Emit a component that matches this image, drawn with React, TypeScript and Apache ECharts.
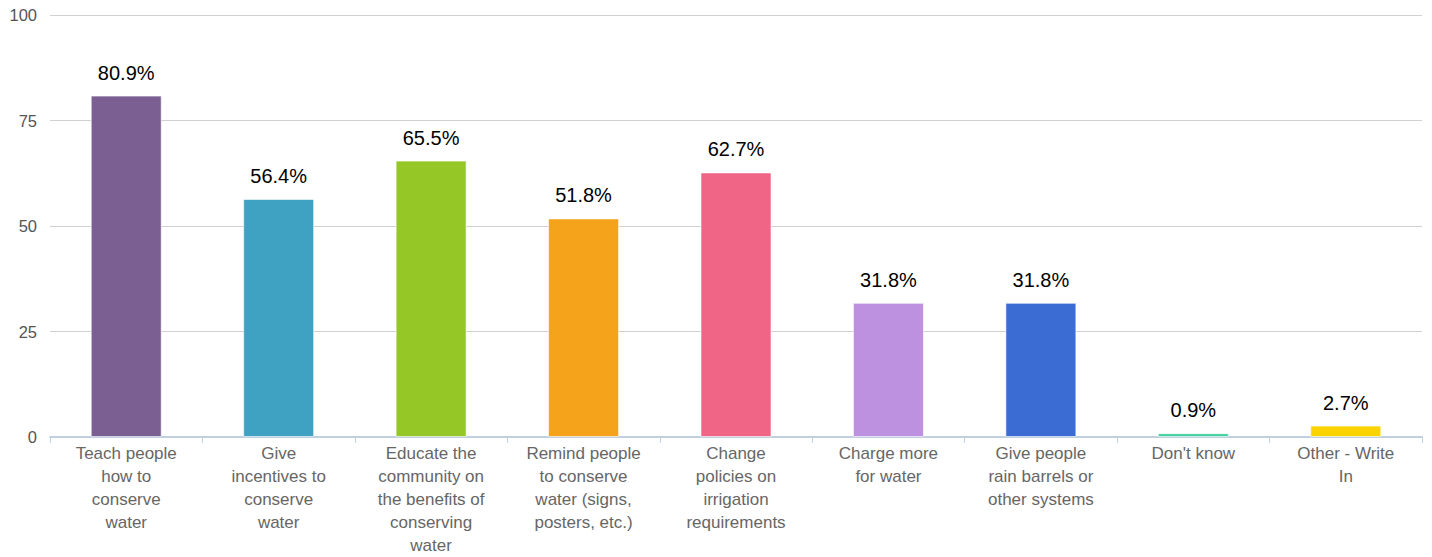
import React, { useEffect, useRef } from "react";
import * as echarts from "echarts";

const categories = [
  "Teach people\nhow to\nconserve\nwater",
  "Give\nincentives to\nconserve\nwater",
  "Educate the\ncommunity on\nthe benefits of\nconserving\nwater",
  "Remind people\nto conserve\nwater (signs,\nposters, etc.)",
  "Change\npolicies on\nirrigation\nrequirements",
  "Charge more\nfor water",
  "Give people\nrain barrels or\nother systems",
  "Don't know",
  "Other - Write\nIn",
];
const values = [80.9, 56.4, 65.5, 51.8, 62.7, 31.8, 31.8, 0.9, 2.7];
const colors = [
  "#7b5f92",
  "#3fa2c2",
  "#95c826",
  "#f4a31b",
  "#f06485",
  "#bd90e0",
  "#3a6cd4",
  "#40d0a0",
  "#fbd300",
];
const yTicks = [0, 25, 50, 75, 100];

export default function App() {
  const ref = useRef<HTMLDivElement>(null);
  useEffect(() => {
    document.body.style.margin = "0";
    const chart = echarts.init(ref.current!, null, { renderer: "svg" });
    const font = "Helvetica, 'Liberation Sans', Arial, sans-serif";
    chart.setOption({
      animation: false,
      textStyle: { fontFamily: font },
      grid: { left: 50, right: 10, top: 15, bottom: 117, containLabel: false },
      xAxis: {
        type: "category",
        data: categories,
        axisLine: { lineStyle: { color: "#c0d0e0", width: 2 } },
        axisTick: { show: true, length: 6, lineStyle: { color: "#c0d0e0" } },
        axisLabel: {
          color: "#666666",
          fontSize: 17,
          lineHeight: 23,
          margin: 5,
          interval: 0,
          fontFamily: font,
        },
      },
      yAxis: {
        type: "value",
        min: yTicks[0],
        max: yTicks[yTicks.length - 1],
        interval: 25,
        axisLine: { show: false },
        axisTick: { show: false },
        splitLine: { lineStyle: { color: "#d0d0d0", width: 1 } },
        axisLabel: { color: "#555555", fontSize: 16.5, margin: 13, fontFamily: font },
      },
      series: [
        {
          type: "bar",
          barWidth: 71,
          data: values.map((v, i) => ({
            value: v,
            itemStyle: { color: colors[i], borderColor: "rgba(255,255,255,0.6)", borderWidth: 1 },
          })),
          label: {
            show: true,
            position: "top",
            distance: 13,
            color: "#000000",
            fontSize: 20,
            fontFamily: font,
            formatter: (p: any) => p.value.toFixed(1) + "%",
          },
        },
      ],
    });
    return () => chart.dispose();
  }, []);
  return <div ref={ref} style={{ width: 1432, height: 557 }} />;
}
